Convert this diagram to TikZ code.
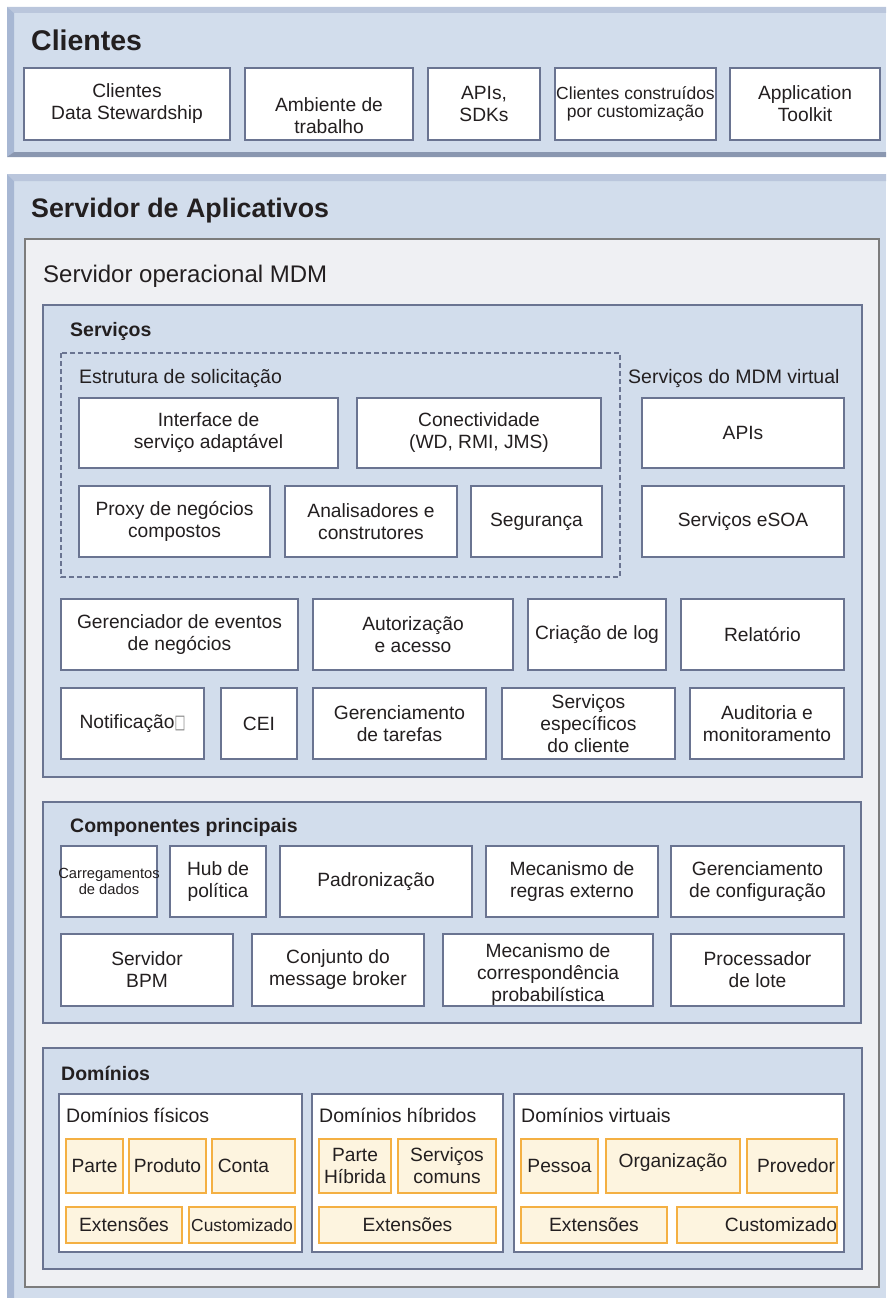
\documentclass[tikz,border=0pt]{standalone}
\usepackage{fontspec}
\setmainfont{Liberation Sans}
\newfontfamily\symfont{DejaVu Sans}

\newlength{\du}
\setlength{\du}{1pt}

\definecolor{bandfill}{HTML}{D2DDEC}
\definecolor{bandtop}{HTML}{BAC6DC}
\definecolor{bandleft}{HTML}{A7B7D3}
\definecolor{bandbottom}{HTML}{8A97B0}
\definecolor{panelline}{HTML}{6A7491}
\definecolor{srvfill}{HTML}{EFF0F3}
\definecolor{srvline}{HTML}{7C7C7C}
\definecolor{orgfill}{HTML}{FDF4DF}
\definecolor{orgline}{HTML}{F4B043}
\definecolor{txt}{HTML}{231F20}

\tikzset{
  panel/.style={draw=panelline, fill=bandfill, line width=1.3\du},
  srvbox/.style={draw=srvline, fill=srvfill, line width=1.5\du},
  wbox/.style={draw=panelline, fill=white, line width=1.3\du},
  obox/.style={draw=orgline, fill=orgfill, line width=1.5\du},
  reqline/.style={draw=panelline, line width=1.2\du, dash pattern=on 5\du off 3\du},
  lbl/.style={text=txt, align=center, inner sep=0pt, font=\fontsize{19.2}{22}\selectfont},
  small/.style={font=\fontsize{14.7}{16.5}\selectfont},
  head/.style={anchor=base west, text=txt, inner sep=0pt, font=\fontsize{19.5}{23}\selectfont},
  headb/.style={head, font=\bfseries\fontsize{19.5}{23}\selectfont},
}

% box with centred text: [text opts]{style}{name}{x1}{y1}{x2}{y2}{text}
\newcommand{\blk}[8][]{%
  \draw[#2] (#4\du,#5\du) rectangle (#6\du,#7\du);
  \node[lbl,#1] (#3) at ({(#4+#6)/2*\du},{(#5+#7)/2*\du}) {#8};}

\begin{document}
\begin{tikzpicture}
\pgftransformxscale{1.000000}
\pgftransformyscale{-1.000000}
\useasboundingbox (0\du,0\du) rectangle (886\du,1298\du);

% Clientes band
\fill[bandfill] (7\du,7\du) rectangle (886\du,157\du);
\fill[bandtop] (7\du,7\du)--(886\du,7\du)--(886\du,13\du)--(14\du,13\du)--cycle;
\fill[bandleft] (7\du,7\du)--(14\du,13\du)--(14\du,152\du)--(7\du,157\du)--cycle;
\fill[bandbottom] (7\du,157\du)--(14\du,152\du)--(886\du,152\du)--(886\du,157\du)--cycle;
\node[head, font=\bfseries\fontsize{28.5}{32}\selectfont] (clientes) at (31\du,51\du) {Clientes};

\blk{wbox}{cds}{24}{68}{230}{140}{Clientes\\Data Stewardship}
\blk[yshift=-12\du]{wbox}{amb}{245}{68}{413}{140}{Ambiente de\\trabalho}
\blk{wbox}{sdk}{428}{68}{540}{140}{APIs,\\SDKs}
\blk[font=\fontsize{17.5}{18}\selectfont]{wbox}{ccc}{555}{68}{716}{140}{Clientes construídos\\por customização}
\blk{wbox}{atk}{730}{68}{880}{140}{Application\\Toolkit}

% Servidor de Aplicativos band
\fill[bandfill] (7\du,174\du) rectangle (886\du,1298\du);
\fill[bandtop] (7\du,174\du)--(886\du,174\du)--(886\du,181\du)--(14\du,181\du)--cycle;
\fill[bandleft] (7\du,174\du)--(14\du,181\du)--(14\du,1298\du)--(7\du,1298\du)--cycle;
\node[head, font=\bfseries\fontsize{26.8}{30}\selectfont] (apps) at (31\du,217\du) {Servidor de Aplicativos};

\draw[srvbox] (25\du,239\du) rectangle (879\du,1287\du);
\node[head, font=\fontsize{24}{28}\selectfont] (mdm) at (43\du,282\du) {Servidor operacional MDM};

% Servicos
\draw[panel] (43\du,305\du) rectangle (862\du,777\du);
\node[headb] (svc) at (70\du,336\du) {Serviços};
\draw[reqline] (61\du,353\du) rectangle (620\du,577\du);
\node[head] (req) at (79\du,383\du) {Estrutura de solicitação};
\node[head] (virt) at (628\du,383\du) {Serviços do MDM virtual};

\blk{wbox}{isa}{79}{398}{338}{468}{Interface de\\serviço adaptável}
\blk{wbox}{con}{357}{398}{601}{468}{Conectividade\\(WD, RMI, JMS)}
\blk{wbox}{api}{642}{398}{844}{468}{APIs}
\blk{wbox}{pxy}{79}{486}{270}{557}{Proxy de negócios\\compostos}
\blk{wbox}{ana}{285}{486}{457}{557}{Analisadores e\\construtores}
\blk{wbox}{seg}{471}{486}{602}{557}{Segurança}
\blk{wbox}{esoa}{642}{486}{844}{557}{Serviços eSOA}

\blk{wbox}{gev}{61}{599}{298}{670}{Gerenciador de eventos\\de negócios}
\blk{wbox}{aut}{313}{599}{513}{670}{Autorização\\e acesso}
\blk{wbox}{log}{528}{599}{666}{670}{Criação de log}
\blk{wbox}{rel}{681}{599}{844}{670}{Relatório}
\blk{wbox}{ntf}{61}{688}{204}{759}{Notificação{\symfont\color{gray}\scalebox{0.6}[1]{□}}}
\blk{wbox}{cei}{221}{688}{297}{759}{CEI}
\blk{wbox}{tar}{313}{688}{486}{759}{Gerenciamento\\de tarefas}
\blk{wbox}{esp}{502}{688}{675}{759}{Serviços\\específicos\\do cliente}
\blk{wbox}{aud}{690}{688}{844}{759}{Auditoria e\\monitoramento}

% Componentes principais
\draw[panel] (43\du,802\du) rectangle (861\du,1023\du);
\node[headb] (cmp) at (70\du,832\du) {Componentes principais};

\blk[small]{wbox}{load}{61}{846}{157}{917}{Carregamentos\\de dados}
\blk{wbox}{hub}{170}{846}{266}{917}{Hub de\\política}
\blk{wbox}{pad}{280}{846}{472}{917}{Padronização}
\blk{wbox}{mre}{486}{846}{658}{917}{Mecanismo de\\regras externo}
\blk{wbox}{gcf}{671}{846}{844}{917}{Gerenciamento\\de configuração}
\blk{wbox}{bpm}{61}{934}{233}{1006}{Servidor\\BPM}
\blk{wbox}{msg}{252}{934}{424}{1006}{Conjunto do\\message broker}
\blk[yshift=-5\du]{wbox}{prb}{443}{934}{653}{1006}{Mecanismo de\\correspondência\\probabilística}
\blk{wbox}{lot}{671}{934}{844}{1006}{Processador\\de lote}

% Dominios
\draw[panel] (43\du,1048\du) rectangle (862\du,1269\du);
\node[headb] (dom) at (61\du,1080\du) {Domínios};

\draw[wbox] (59\du,1094\du) rectangle (302\du,1252\du);
\node[head] (fis) at (66\du,1122\du) {Domínios físicos};
\draw[wbox] (312\du,1094\du) rectangle (503\du,1252\du);
\node[head] (hib) at (319\du,1122\du) {Domínios híbridos};
\draw[wbox] (514\du,1094\du) rectangle (844\du,1252\du);
\node[head] (vir) at (521\du,1122\du) {Domínios virtuais};

\blk{obox}{parte}{66}{1139}{123}{1193}{Parte}
\blk{obox}{prod}{129}{1139}{206}{1193}{Produto}
\blk[xshift=-10\du]{obox}{conta}{212}{1139}{295}{1193}{Conta}
\blk{obox}{extf}{66}{1207}{182}{1243}{Extensões}
\blk[font=\fontsize{17.4}{20}\selectfont]{obox}{cusf}{189}{1207}{295}{1243}{Customizado}

\blk{obox}{ph}{319}{1139}{391}{1193}{Parte\\Híbrida}
\blk{obox}{sc}{398}{1139}{496}{1193}{Serviços\\comuns}
\blk{obox}{exth}{319}{1207}{496}{1243}{Extensões}

\blk{obox}{pes}{521}{1139}{598}{1193}{Pessoa}
\blk[yshift=3\du]{obox}{org}{606}{1139}{740}{1193}{Organização}
\blk[xshift=4\du]{obox}{prov}{747}{1139}{837}{1193}{Provedor}
\blk{obox}{extv}{521}{1207}{667}{1243}{Extensões}
\blk[xshift=24\du]{obox}{cusv}{677}{1207}{837}{1243}{Customizado}
\end{tikzpicture}
\end{document}
